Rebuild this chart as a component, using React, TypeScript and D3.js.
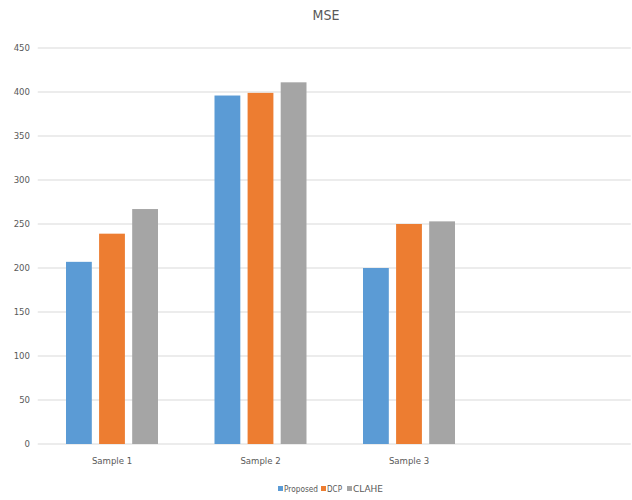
import React from "react";
import * as d3 from "d3";

const categories = ["Sample 1", "Sample 2", "Sample 3", ""];
const seriesNames = ["Proposed", "DCP", "CLAHE"];
const proposed = [207, 396, 200];
const dcp = [239, 399, 250];
const clahe = [267, 411, 253];
const yTicks = [0, 50, 100, 150, 200, 250, 300, 350, 400, 450];
const title = "MSE";

const colors = ["#5B9BD5", "#ED7D31", "#A5A5A5"];
const FONT = "'Liberation Sans Narrow', 'Arial Narrow', 'DejaVu Sans Condensed', sans-serif";

export default function App() {
  const W = 632, H = 500;
  const left = 37.75, right = 631.75, top = 48, bottom = 444;
  const series = [proposed, dcp, clahe];

  const x = d3.scaleBand<string>().domain(categories.map((c, i) => String(i))).range([left, right]);
  const y = d3.scaleLinear().domain([0, 450]).range([bottom, top]);
  const inner = d3.scaleBand<string>().domain(seriesNames).range([0, 92]).paddingInner(0.22);

  const legendSquares = [278, 321, 347];
  const legendWidths = [34, 15, 30];

  return (
    <svg width={W} height={H} style={{ position: "absolute", left: 0, top: 0, background: "#fff" }}>
      <rect x={0} y={0} width={W} height={H} fill="#fff" />
      <text x={326} y={20} textAnchor="middle" fontFamily={FONT} fontSize={14} fill="#595959">{title}</text>
      {yTicks.map((t) => (
        <g key={t}>
          <line x1={left} x2={right - 1} y1={y(t)} y2={y(t)} stroke="#D9D9D9" strokeWidth={1} />
          <text x={30} y={y(t)} dy="0.35em" textAnchor="end" fontFamily={FONT} fontSize={9.5} fill="#595959">{t}</text>
        </g>
      ))}
      {categories.map((c, ci) => {
        const cx = (x(String(ci)) as number) + x.bandwidth() / 2;
        return (
          <g key={ci}>
            {series.map((s, si) => {
              const v = s[ci];
              if (v === undefined) return null;
              return (
                <rect key={si} x={cx - 46 + (inner(seriesNames[si]) as number)} y={y(v)} width={inner.bandwidth()} height={y(0) - y(v)} fill={colors[si]} />
              );
            })}
            {c && (
              <text x={cx} y={464} textAnchor="middle" fontFamily={FONT} fontSize={9.5} fill="#595959">{c}</text>
            )}
          </g>
        );
      })}
      {seriesNames.map((n, i) => (
        <g key={n}>
          <rect x={legendSquares[i]} y={486} width={5} height={5} fill={colors[i]} />
          <text x={legendSquares[i] + 6} y={492} fontFamily={FONT} fontSize={9} fill="#595959"
            textLength={legendWidths[i]} lengthAdjust="spacingAndGlyphs">{n}</text>
        </g>
      ))}
    </svg>
  );
}
